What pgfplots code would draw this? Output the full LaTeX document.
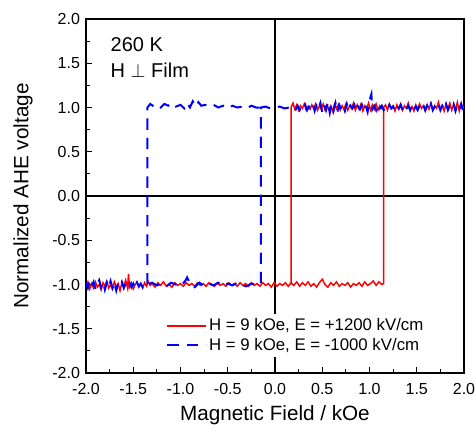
\documentclass[border=0pt]{standalone}
\usepackage{fontspec}
\setmainfont{Liberation Sans}
\usepackage{pgfplots}
\pgfplotsset{compat=1.18}
\begin{document}
\begin{tikzpicture}
\useasboundingbox (-64.5pt,-39pt) rectangle (292.5pt,279.75pt);
\begin{axis}[
  at={(0,0)}, anchor=south west,
  scale only axis, width=283.5pt, height=265.5pt,
  xmin=-2, xmax=2, ymin=-2, ymax=2,
  xtick={-2,-1.5,-1,-0.5,0,0.5,1,1.5,2},
  ytick={-2,-1.5,-1,-0.5,0,0.5,1,1.5,2},
  minor x tick num=1, minor y tick num=1,
  tick align=inside, xtick pos=bottom, ytick pos=left,
  major tick length=4.5pt, minor tick length=3pt,
  axis line style={line width=1.2pt},
  tick style={line width=0.8pt, black},
  /pgf/number format/assume math mode=true,
  ticklabel style={font=\fontsize{12}{14}\selectfont},
  xticklabel style={yshift=-4pt, /pgf/number format/fixed, /pgf/number format/fixed zerofill, /pgf/number format/precision=1},
  yticklabel style={xshift=-1pt, /pgf/number format/fixed, /pgf/number format/fixed zerofill, /pgf/number format/precision=1},
  xlabel={Magnetic Field / kOe},
  ylabel={Normalized AHE voltage},
  label style={font=\fontsize{15.5}{18}\selectfont},
  xlabel style={at={(axis description cs:0.5,-0.1328)}, anchor=base},
  ylabel style={at={(axis description cs:-0.1667,0.5)}, anchor=center},
  legend style={at={(axis description cs:0.205,0.044)}, anchor=south west, draw=none, fill=white,
    font=\fontsize{12.6}{14}\selectfont, inner sep=2pt, row sep=1pt,
    nodes={inner sep=1.5pt}},
  legend cell align=left,
  legend image code/.code={\draw[#1] (0pt,0pt) -- (29pt,0pt);},
  clip=true,
]
\draw[black, line width=1.2pt] (axis cs:-2,0) -- (axis cs:2,0);
\draw[black, line width=1.2pt] (axis cs:0,-2) -- (axis cs:0,2);

\addplot[red, line width=1.1pt] coordinates {
(-2.00,-1.02) (-1.98,-0.97) (-1.96,-1.05) (-1.94,-0.99) (-1.92,-1.04) (-1.90,-0.97)
(-1.88,-1.03) (-1.86,-1.00) (-1.84,-1.06) (-1.82,-0.98) (-1.80,-1.02) (-1.78,-0.96)
(-1.76,-1.04) (-1.74,-1.00) (-1.72,-1.05) (-1.70,-0.97) (-1.68,-1.03) (-1.66,-0.99)
(-1.64,-1.07) (-1.62,-0.98) (-1.60,-1.02) (-1.58,-0.95) (-1.56,-1.04) (-1.55,-0.88)
(-1.54,-1.03) (-1.52,-0.98) (-1.50,-1.05) (-1.48,-1.00) (-1.46,-0.97) (-1.44,-1.03)
(-1.42,-0.99) (-1.40,-1.04) (-1.38,-0.98) (-1.36,-1.02) (-1.34,-0.97) (-1.32,-1.01)
(-1.30,-0.99) (-1.27,-1.03) (-1.24,-0.98) (-1.21,-1.01) (-1.18,-0.97) (-1.15,-1.02)
(-1.12,-1.00) (-1.09,-1.03) (-1.06,-0.98) (-1.03,-1.01) (-1.00,-0.99) (-0.97,-1.02)
(-0.94,-0.98) (-0.91,-1.01) (-0.88,-0.99) (-0.85,-1.02) (-0.82,-0.98) (-0.79,-1.01)
(-0.76,-0.99) (-0.73,-1.02) (-0.70,-0.98) (-0.67,-1.00) (-0.64,-1.02) (-0.61,-0.98)
(-0.58,-1.01) (-0.55,-0.99) (-0.52,-1.02) (-0.49,-0.98) (-0.46,-1.01) (-0.43,-0.99)
(-0.40,-1.02) (-0.37,-0.98) (-0.34,-1.01) (-0.31,-0.99) (-0.28,-1.02) (-0.25,-0.98)
(-0.22,-1.01) (-0.19,-0.99) (-0.16,-1.02) (-0.13,-0.98) (-0.10,-1.01) (-0.07,-0.99)
(-0.04,-1.03) (-0.01,-0.98) (0.02,-1.02) (0.05,-0.99) (0.08,-1.01) (0.11,-0.98)
(0.14,-1.02) (0.17,-0.98) (0.20,-1.01) (0.23,-0.97) (0.26,-1.02) (0.29,-0.98)
(0.32,-1.01) (0.35,-0.97) (0.38,-1.02) (0.41,-0.99) (0.44,-1.03) (0.47,-0.98)
(0.50,-0.94) (0.53,-1.00) (0.56,-1.03) (0.59,-0.98) (0.62,-1.01) (0.65,-0.97)
(0.68,-1.02) (0.71,-0.99) (0.74,-1.01) (0.77,-0.98) (0.80,-1.03) (0.83,-0.99)
(0.86,-1.01) (0.89,-0.98) (0.92,-1.02) (0.95,-0.97) (0.98,-1.01) (1.01,-0.99)
(1.04,-0.96) (1.07,-1.01) (1.10,-0.97) (1.13,-1.00) (1.15,-0.99) (1.15,1.00)
(1.17,1.03) (1.19,0.97) (1.21,1.04) (1.23,0.99) (1.25,1.02) (1.27,0.96)
(1.29,1.03) (1.31,0.98) (1.33,1.04) (1.35,0.97) (1.37,1.02) (1.39,0.99)
(1.41,1.05) (1.43,0.97) (1.45,1.01) (1.47,0.96) (1.49,1.03) (1.51,0.98)
(1.53,1.04) (1.55,0.99) (1.57,1.02) (1.59,0.96) (1.61,1.03) (1.63,0.98)
(1.65,1.05) (1.67,0.97) (1.69,1.02) (1.71,0.99) (1.73,1.06) (1.75,0.97)
(1.77,1.02) (1.79,0.96) (1.81,1.04) (1.83,0.99) (1.85,1.05) (1.87,0.97)
(1.89,1.03) (1.91,0.98) (1.93,1.06) (1.95,0.96) (1.97,1.04) (1.99,0.99) (2.00,1.02)
};
\addlegendentry{H = 9 kOe, E = +1200 kV/cm}

\addplot[red, line width=1.1pt, forget plot] coordinates {
(0.17,-1.00) (0.17,1.00) (0.19,1.05) (0.21,0.98) (0.23,1.03) (0.25,0.97)
(0.27,1.02) (0.29,0.99) (0.31,1.04) (0.33,0.97) (0.35,1.01) (0.37,0.98)
(0.39,1.03) (0.41,0.99) (0.43,1.04) (0.45,0.97) (0.47,1.02) (0.49,0.98)
(0.51,1.04) (0.53,0.97) (0.55,1.03) (0.57,0.98) (0.59,1.02) (0.61,0.96)
(0.63,1.04) (0.65,0.99) (0.67,1.03) (0.69,0.97) (0.71,1.02) (0.73,0.98)
(0.75,1.04) (0.77,0.97) (0.79,1.02) (0.81,0.99) (0.83,1.05) (0.85,0.97)
(0.87,1.03) (0.89,0.98) (0.91,1.04) (0.93,0.96) (0.95,1.02) (0.97,0.99)
(0.99,1.05) (1.01,0.97) (1.03,1.03) (1.05,0.98) (1.07,1.04) (1.09,0.97)
(1.11,1.02) (1.13,0.99) (1.15,1.01)
};

\addplot[blue, line width=1.5pt, dash pattern=on 8.5pt off 6pt] coordinates {
(-2.00,-0.98) (-1.98,-1.04) (-1.96,-0.96) (-1.94,-1.02) (-1.92,-0.97) (-1.90,-1.05)
(-1.88,-0.99) (-1.86,-0.95) (-1.84,-1.03) (-1.82,-0.97) (-1.80,-1.06) (-1.78,-0.98)
(-1.76,-1.03) (-1.74,-0.96) (-1.72,-1.04) (-1.70,-0.98) (-1.68,-1.07) (-1.66,-0.99)
(-1.64,-1.02) (-1.62,-0.97) (-1.60,-1.04) (-1.58,-0.99) (-1.56,-1.01) (-1.54,-0.97)
(-1.52,-1.03) (-1.50,-0.99) (-1.48,-1.04) (-1.46,-0.98) (-1.44,-1.02) (-1.42,-0.99)
(-1.40,-1.03) (-1.38,-1.00) (-1.35,-1.00)
(-1.30,-0.98) (-1.25,-1.01) (-1.20,-0.99) (-1.15,-1.02) (-1.10,-0.98) (-1.05,-1.00)
(-1.00,-1.02) (-0.95,-0.96) (-0.93,-0.92) (-0.90,-0.99) (-0.85,-1.03) (-0.80,-0.98)
(-0.75,-1.02) (-0.70,-0.99) (-0.65,-1.01) (-0.60,-0.98) (-0.55,-1.02) (-0.50,-0.99)
(-0.45,-1.01) (-0.40,-0.98) (-0.35,-1.01) (-0.30,-1.02) (-0.25,-0.99) (-0.20,-1.00)
(-0.15,-1.00) (-0.15,1.00)
(-0.10,1.01) (-0.05,0.99) (0.00,1.00) (0.05,1.01) (0.10,0.99) (0.15,1.00)
(0.20,1.01) (0.22,0.98) (0.24,1.02) (0.26,0.97) (0.28,1.01) (0.30,0.99)
(0.32,1.03) (0.34,0.97) (0.36,1.01) (0.38,0.99) (0.40,1.04) (0.42,0.96)
(0.44,1.02) (0.46,0.98) (0.48,1.05) (0.50,0.95) (0.52,1.03) (0.54,0.97)
(0.56,1.06) (0.58,0.94) (0.60,1.04) (0.62,0.96) (0.64,1.05) (0.66,0.95)
(0.68,1.03) (0.70,0.98) (0.72,1.02) (0.74,0.96) (0.76,1.04) (0.78,0.97)
(0.80,1.02) (0.82,0.99) (0.84,1.03) (0.86,0.96) (0.88,1.01) (0.90,0.98)
(0.92,1.03) (0.94,0.97) (0.96,1.02) (0.98,0.95) (1.00,1.08) (1.02,1.15)
(1.03,0.98) (1.05,1.02) (1.07,0.97) (1.09,1.04) (1.11,0.99) (1.13,1.02)
(1.15,0.97) (1.17,1.01) (1.19,0.98) (1.21,1.03) (1.23,0.99) (1.25,1.01)
(1.27,0.97) (1.29,1.02) (1.31,0.99) (1.33,1.03) (1.35,0.97) (1.37,1.01)
(1.39,0.98) (1.41,1.02) (1.43,0.97) (1.45,1.03) (1.47,0.98) (1.49,1.01)
(1.51,0.97) (1.53,1.02) (1.55,0.99) (1.57,1.03) (1.59,0.97) (1.61,1.02)
(1.63,0.98) (1.65,1.04) (1.67,0.97) (1.69,1.01) (1.71,0.98) (1.73,1.03)
(1.75,0.97) (1.77,1.02) (1.79,0.98) (1.81,1.04) (1.83,0.97) (1.85,1.02)
(1.87,0.99) (1.89,1.04) (1.91,0.96) (1.93,1.03) (1.95,0.98) (1.97,1.04)
(1.99,0.96) (2.00,1.00)
};
\addlegendentry{H = 9 kOe, E = -1000 kV/cm}

\addplot[blue, line width=1.5pt, dash pattern=on 8.5pt off 6pt, forget plot] coordinates {
(-1.35,-1.00) (-1.35,1.00) (-1.32,1.04) (-1.28,1.01) (-1.25,1.03) (-1.21,1.00)
(-1.17,1.04) (-1.13,1.02) (-1.09,1.05) (-1.05,1.01) (-1.00,1.03) (-0.96,0.99)
(-0.93,1.05) (-0.90,1.00) (-0.87,1.07) (-0.84,1.01) (-0.81,1.06) (-0.78,1.02)
(-0.74,1.03) (-0.70,1.01) (-0.65,1.03) (-0.60,1.00) (-0.55,1.02) (-0.50,0.99)
(-0.45,1.02) (-0.40,1.00) (-0.35,1.01) (-0.30,0.99) (-0.25,1.02) (-0.20,1.00)
(-0.15,1.00)
};

\node[anchor=base west, font=\fontsize{15}{18}\selectfont] at (rel axis cs:0.053,0.907) {260 K};
\node[anchor=base west, font=\fontsize{15}{18}\selectfont] at (rel axis cs:0.053,0.836) {H $\perp$ Film};
\end{axis}
\end{tikzpicture}
\end{document}
